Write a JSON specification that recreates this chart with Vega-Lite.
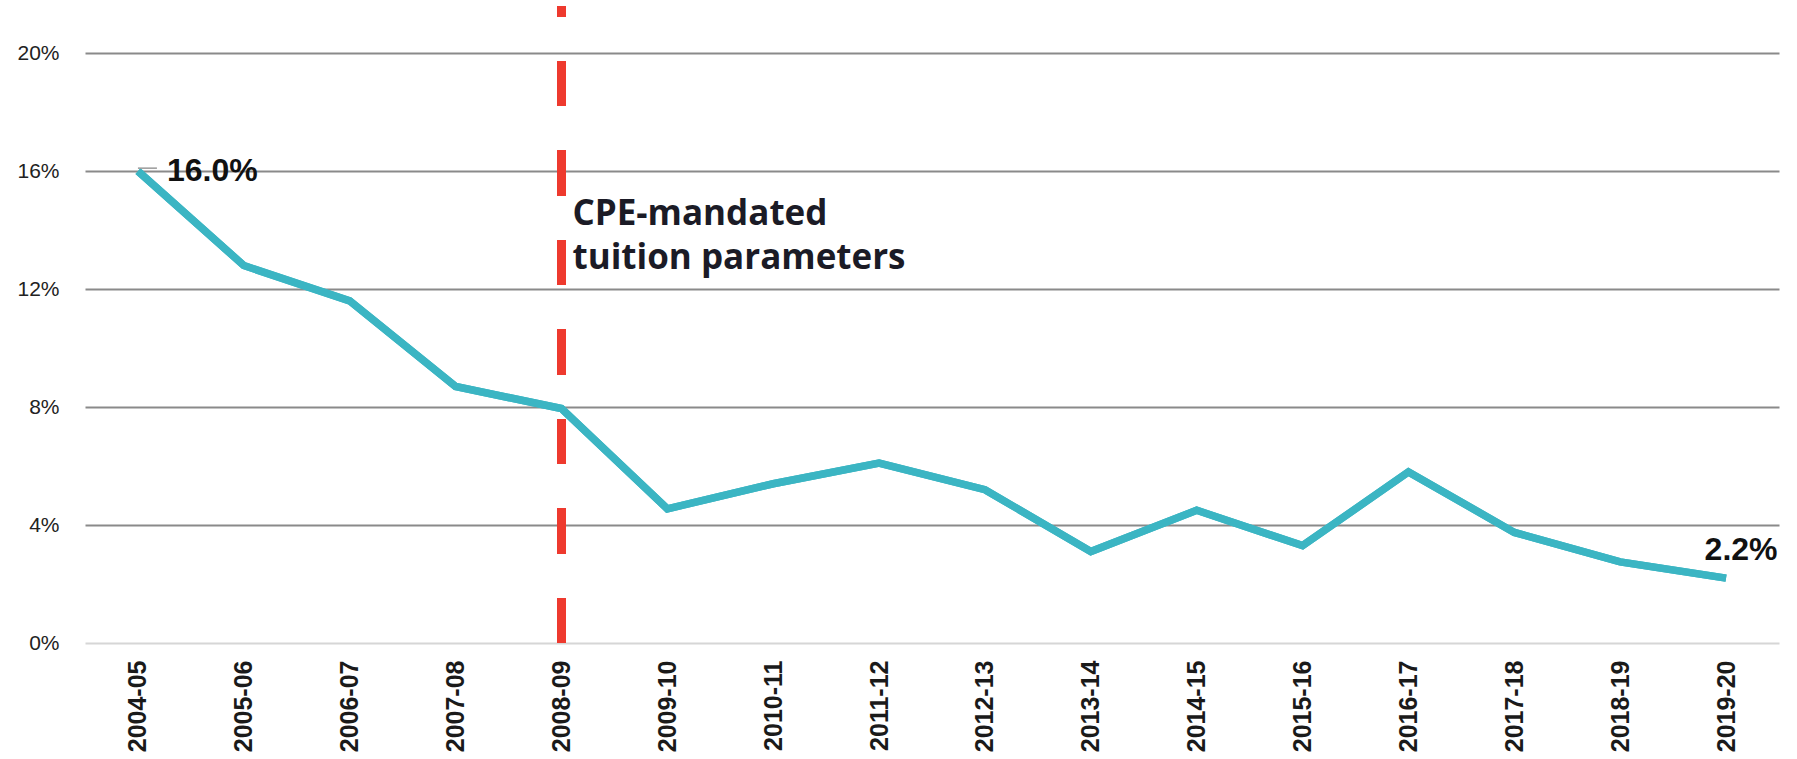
{
  "$schema": "https://vega.github.io/schema/vega-lite/v6.json",
  "autosize": {"type": "none"},
  "width": 1694,
  "height": 637,
  "padding": {"left": 85, "top": 6, "right": 18, "bottom": 116},
  "background": "white",
  "config": {"view": {"stroke": null}},
  "data": {
    "values": [
      {"year": "2004-05", "rate": 16.0, "label": "16.0%"},
      {"year": "2005-06", "rate": 12.8},
      {"year": "2006-07", "rate": 11.6},
      {"year": "2007-08", "rate": 8.7},
      {"year": "2008-09", "rate": 7.95},
      {"year": "2009-10", "rate": 4.55},
      {"year": "2010-11", "rate": 5.4},
      {"year": "2011-12", "rate": 6.1},
      {"year": "2012-13", "rate": 5.2},
      {"year": "2013-14", "rate": 3.1},
      {"year": "2014-15", "rate": 4.5},
      {"year": "2015-16", "rate": 3.3},
      {"year": "2016-17", "rate": 5.8},
      {"year": "2017-18", "rate": 3.75},
      {"year": "2018-19", "rate": 2.75},
      {"year": "2019-20", "rate": 2.2, "label": "2.2%"}
    ]
  },
  "encoding": {
    "x": {
      "field": "year",
      "type": "ordinal",
      "scale": {"type": "point", "padding": 0.5},
      "axis": {
        "title": null,
        "labelAngle": 270,
        "labelAlign": "right",
        "labelBaseline": "middle",
        "labelFont": "Liberation Sans",
        "labelFontSize": 25,
        "labelFontWeight": "bold",
        "labelColor": "#1a1a1a",
        "labelPadding": 17,
        "ticks": false,
        "domain": false,
        "grid": false
      }
    }
  },
  "layer": [
    {
      "mark": {"type": "line", "color": "#3BB5C3", "strokeWidth": 7.5},
      "encoding": {
        "y": {
          "field": "rate",
          "type": "quantitative",
          "scale": {"domain": [0, 21.6], "nice": false, "zero": true},
          "axis": {
            "title": null,
            "values": [0, 4, 8, 12, 16, 20],
            "labelExpr": "datum.value + '%'",
            "labelFont": "Liberation Sans",
            "labelFontSize": 21,
            "labelColor": "#222222",
            "labelPadding": 26,
            "ticks": false,
            "domain": false,
            "grid": true,
            "gridWidth": 2,
            "gridColor": {"condition": {"test": "datum.value === 0", "value": "#d6d6d6"}, "value": "#8a8a8a"}
          }
        }
      }
    },
    {
      "mark": {"type": "rule", "color": "#EE3A2E", "strokeWidth": 8, "strokeDash": [45, 44.5]},
      "encoding": {
        "x": {"datum": "2008-09"},
        "y": {"datum": 0},
        "y2": {"datum": 21.6}
      }
    },
    {
      "mark": {"type": "line", "color": "#3BB5C3", "strokeWidth": 7.5},
      "encoding": {
        "y": {"field": "rate", "type": "quantitative"}
      }
    },
    {
      "transform": [{"filter": "datum.year === '2004-05'"}],
      "mark": {"type": "rule", "color": "#999999", "strokeWidth": 1.5, "x2Offset": 19, "yOffset": -3, "y2Offset": -3},
      "encoding": {
        "x2": {"field": "year"},
        "y": {"field": "rate", "type": "quantitative"}
      }
    },
    {
      "transform": [{"filter": "datum.year === '2004-05'"}],
      "mark": {"type": "text", "font": "Liberation Sans", "fontWeight": "bold", "fontSize": 32, "color": "#111111", "align": "left", "baseline": "alphabetic", "dx": 29, "dy": 10},
      "encoding": {
        "y": {"field": "rate", "type": "quantitative"},
        "text": {"field": "label"}
      }
    },
    {
      "transform": [{"filter": "datum.year === '2019-20'"}],
      "mark": {"type": "text", "font": "Liberation Sans", "fontWeight": "bold", "fontSize": 32, "color": "#111111", "align": "center", "baseline": "alphabetic", "dx": 15, "dy": -18},
      "encoding": {
        "y": {"field": "rate", "type": "quantitative"},
        "text": {"field": "label"}
      }
    },
    {
      "data": {"values": [{"note": ["CPE-mandated", "tuition parameters"]}]},
      "mark": {"type": "text", "font": "Open Sans", "fontWeight": "bold", "fontSize": 35, "color": "#1b1b26", "align": "left", "baseline": "alphabetic", "dx": 11, "lineHeight": 44},
      "encoding": {
        "x": {"datum": "2008-09"},
        "y": {"datum": 14.17},
        "text": {"field": "note"}
      }
    }
  ]
}
